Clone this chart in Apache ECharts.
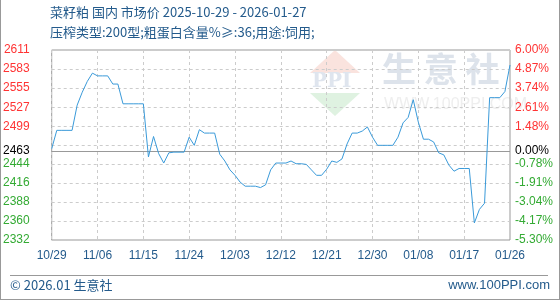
<!DOCTYPE html>
<html>
<head>
<meta charset="utf-8">
<script src="https://cdn.jsdelivr.net/npm/echarts@6/dist/echarts.min.js"></script>
<style>html,body{margin:0;padding:0;background:#fff;}#c{width:560px;height:300px;}</style>
</head>
<body>
<div id="c"></div>
<script>
// ---- data ----
var startDate = '2025-10-29';
var dayCount = 91; // 2025-10-29 .. 2026-01-27
var xTickLabels = ['10/29','11/06','11/15','11/24','12/03','12/12','12/21','12/30','01/08','01/17','01/26'];
var prices = [
  2466,2493,2493,2493,2493,2530,2549,2565,2577,2573,
  2573,2573,2561,2561,2532,2532,2532,2532,2532,2454,
  2484,2459,2445,2460,2461,2461,2461,2483,2471,2494,
  2489,2489,2489,2458,2448,2435,2427,2417,2411,2411,
  2411,2409,2413,2435,2445,2445,2445,2448,2444,2444,
  2443,2435,2427,2427,2436,2448,2446,2451,2473,2489,
  2489,2492,2498,2483,2471,2471,2471,2471,2483,2504,
  2512,2538,2505,2480,2480,2476,2460,2457,2442,2433,
  2437,2437,2437,2357,2377,2386,2541,2541,2541,2550,
  2589
];
var baseValue = 2463;
var yMin = 2332, yMax = 2611;
var yTickValues = [2611,2583,2555,2527,2499,2463,2444,2416,2388,2360,2332];
var pctTickLabels = ['6.00%','4.87%','3.74%','2.61%','1.48%','0.00%','-0.78%','-1.91%','-3.04%','-4.17%','-5.30%'];
var titleLine1 = '菜籽粕 国内 市场价 2025-10-29 - 2026-01-27';
var titleLine2 = '压榨类型:200型;粗蛋白含量%≥:36;用途:饲用;';

// ---- build ----
var dates = [];
(function(){
  var d = new Date(startDate + 'T00:00:00Z');
  for (var i = 0; i < dayCount; i++) {
    var t = new Date(d.getTime() + i * 86400000);
    dates.push(t.toISOString().slice(0,10));
  }
})();
function tickColor(v){ return v > baseValue ? '#ff3333' : (v < baseValue ? '#33aa33' : '#000000'); }
function nearestIdx(v){
  var b = 0, bd = 1e9;
  for (var i = 0; i < yTickValues.length; i++){ var dd = Math.abs(yTickValues[i]-v); if (dd < bd){bd = dd; b = i;} }
  return b;
}
var blue = '#245b8c';
var font = 'Liberation Sans, Arial, sans-serif';
var cjk = '"Noto Sans CJK SC", sans-serif';

var chart = echarts.init(document.getElementById('c'), null, {renderer:'canvas'});
chart.setOption({
  animation: false,
  backgroundColor: '#fff',
  grid: {left: 50, right: 50, top: 50, bottom: 60, show: true, borderColor: '#999', borderWidth: 1, backgroundColor: 'transparent'},
  xAxis: {
    type: 'category', data: dates, boundaryGap: false,
    axisLine: {show: false}, axisTick: {show: false},
    axisLabel: {interval: 8, margin: 10, color: blue, fontSize: 12, fontFamily: font,
      formatter: function(v, idx){ return xTickLabels[Math.round(idx/9)] || ''; }},
    splitLine: {show: true, interval: 8, lineStyle: {color: '#cccccc', type: [3,3], width: 1}}
  },
  yAxis: [
    {type: 'value', min: yMin, max: yMax, position: 'left',
     axisLine: {show: false}, axisTick: {show: false}, splitLine: {show: false},
     axisLabel: {customValues: yTickValues, margin: 22, fontSize: 12, fontFamily: font,
       formatter: function(v){ return String(yTickValues[nearestIdx(v)]); },
       color: function(v){ return tickColor(yTickValues[nearestIdx(v)]); }}},
    {type: 'value', min: yMin, max: yMax, position: 'right',
     axisLine: {show: false}, axisTick: {show: false}, splitLine: {show: false},
     axisLabel: {customValues: yTickValues, margin: 5, fontSize: 12, fontFamily: font,
       formatter: function(v){ return pctTickLabels[nearestIdx(v)]; },
       color: function(v){ return tickColor(yTickValues[nearestIdx(v)]); }}},
    {type: 'value', min: 0, max: 10, interval: 1, show: true, position: 'right',
     axisLine: {show: false}, axisTick: {show: false}, axisLabel: {show: false},
     splitLine: {show: true, lineStyle: {color: '#cccccc', type: [3,3], width: 1}}}
  ],
  graphic: [
    {type: 'text', left: 50, top: 6, z: 10, style: {text: titleLine1, fill: blue, font: '13px ' + cjk}},
    {type: 'text', left: 50, top: 26, z: 10, style: {text: titleLine2, fill: blue, font: '13px ' + cjk}},
    {type: 'polygon', z: -5, shape: {points: [[335,50],[310,73],[360,73]]}, style: {fill: '#fae3de'}},
    {type: 'text', z: -5, left: 312, top: 72, style: {text: 'PPI', fill: '#dfe5ee', font: 'bold 20px "DejaVu Serif", serif'}},
    {type: 'polygon', z: -5, shape: {points: [[310,93],[360,93],[335,116]]}, style: {fill: '#dff2e1'}},
    {type: 'text', z: -5, left: 382, top: 52, style: {text: '生 意 社', fill: '#dde3eb', font: 'bold 34px ' + cjk}},
    {type: 'text', z: -5, left: 384, top: 97, style: {text: 'WWW.100PPI.COM', fill: '#eeeeee', font: '16px ' + font}},
    {type: 'line', z: 10, shape: {x1: 0.5, y1: 0, x2: 0.5, y2: 300}, style: {stroke: '#999', lineWidth: 1}},
    {type: 'line', z: 10, shape: {x1: 559.5, y1: 0, x2: 559.5, y2: 300}, style: {stroke: '#999', lineWidth: 1}},
    {type: 'line', z: 10, shape: {x1: 0, y1: 299.5, x2: 560, y2: 299.5}, style: {stroke: '#999', lineWidth: 1}},
    {type: 'line', z: 10, shape: {x1: 10, y1: 275.5, x2: 548, y2: 275.5}, style: {stroke: '#999', lineWidth: 1}},
    {type: 'text', z: 10, left: 10, top: 279, style: {text: '© 2026.01 生意社', fill: blue, font: '13px ' + cjk}},
    {type: 'text', z: 10, right: 10, top: 279, style: {text: 'www.100PPI.com', fill: blue, font: '13px ' + font}}
  ],
  series: [{
    type: 'line', data: prices, yAxisIndex: 0, showSymbol: false, symbol: 'none',
    lineStyle: {color: '#3a9ad9', width: 1}, z: 5,
    markLine: {silent: true, symbol: 'none', label: {show: false},
      lineStyle: {color: '#999', type: 'solid', width: 1},
      data: [{yAxis: baseValue}]}
  }]
});
</script>
</body>
</html>
